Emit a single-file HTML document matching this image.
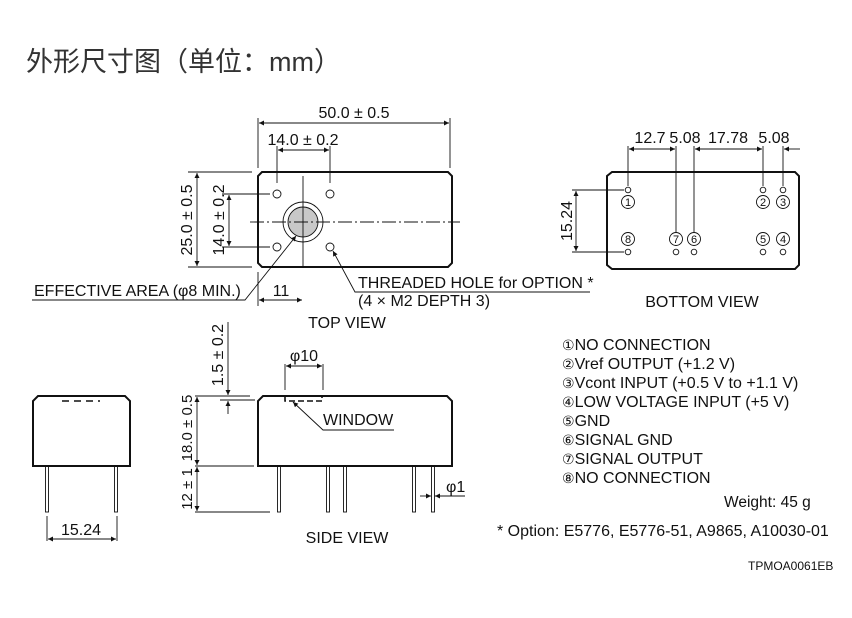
<!DOCTYPE html>
<html><head><meta charset="utf-8"><style>
html,body{margin:0;padding:0;background:#fff;width:852px;height:618px;overflow:hidden}
svg{display:block}
text{font-family:"Liberation Sans",Arial,sans-serif;fill:#111}
</style></head><body>
<svg width="852" height="618" viewBox="0 0 852 618" xmlns="http://www.w3.org/2000/svg">
<defs>
<marker id="a" viewBox="0 0 10 10" refX="10" refY="5" markerWidth="9" markerHeight="5" orient="auto-start-reverse" markerUnits="userSpaceOnUse"><path d="M0,0L10,5L0,10z" fill="#111"/></marker>
</defs>
<text x="26" y="71" style="font-family:'Liberation Sans','Noto Sans CJK SC',sans-serif;font-size:27px;fill:#333">外形尺寸图（单位：mm）</text>

<g stroke="#111" fill="none" stroke-width="0.9">
<path d="M262,172 H448 L452,176 V263 L448,267 H262 L258,263 V176 Z" stroke-width="2"/>
<circle cx="277" cy="194" r="4"/><circle cx="330" cy="194" r="4"/>
<circle cx="277" cy="247" r="4"/><circle cx="330" cy="247" r="4"/>
<circle cx="303" cy="222" r="20"/>
<circle cx="303" cy="222" r="15" fill="#c8c8c8"/>
<line x1="303" y1="176" x2="303" y2="268"/>
<line x1="250" y1="222" x2="460" y2="222" stroke-dasharray="14,3,2,3"/>
<line x1="258" y1="118" x2="258" y2="168"/><line x1="450" y1="118" x2="450" y2="168"/>
<line x1="259" y1="123" x2="449" y2="123" marker-start="url(#a)" marker-end="url(#a)"/>
<line x1="277" y1="146" x2="277" y2="183"/><line x1="330" y1="146" x2="330" y2="183"/>
<line x1="278" y1="150" x2="329" y2="150" marker-start="url(#a)" marker-end="url(#a)"/>
<line x1="188" y1="172" x2="252" y2="172"/><line x1="188" y1="267" x2="252" y2="267"/>
<line x1="197" y1="173" x2="197" y2="266" marker-start="url(#a)" marker-end="url(#a)"/>
<line x1="222" y1="194" x2="270" y2="194"/><line x1="222" y1="247" x2="270" y2="247"/>
<line x1="229" y1="195" x2="229" y2="246" marker-start="url(#a)" marker-end="url(#a)"/>
<line x1="258" y1="272" x2="258" y2="306"/>
<line x1="259" y1="300" x2="302" y2="300" marker-start="url(#a)" marker-end="url(#a)"/>
<polyline points="296,236 245,300 32,300" marker-start="url(#a)"/>
<polyline points="333,251 355,292 590,292" marker-start="url(#a)"/>

<path d="M263,396 H447 L452,401 V466 H258 V401 Z" stroke-width="2"/>
<path d="M285,396 V401 H322 V396" stroke-width="1.6" stroke-dasharray="6,3"/>
<g stroke-width="0.9">
<rect x="277.5" y="466" width="3" height="46"/><rect x="326.5" y="466" width="3" height="46"/>
<rect x="343.5" y="466" width="3" height="46"/><rect x="412.5" y="466" width="3" height="46"/>
<rect x="431.5" y="466" width="3" height="46"/>
</g>
<line x1="228" y1="322" x2="228" y2="395" marker-end="url(#a)"/>
<line x1="228" y1="414" x2="228" y2="401" marker-end="url(#a)"/>
<line x1="195" y1="396" x2="250" y2="396"/><line x1="220" y1="400" x2="255" y2="400"/>
<line x1="197" y1="397" x2="197" y2="465" marker-start="url(#a)" marker-end="url(#a)"/>
<line x1="197" y1="467" x2="197" y2="511" marker-start="url(#a)" marker-end="url(#a)"/>
<line x1="195" y1="466" x2="254" y2="466"/><line x1="195" y1="512" x2="270" y2="512"/>
<line x1="285" y1="364" x2="285" y2="390"/><line x1="323" y1="364" x2="323" y2="390"/>
<line x1="286" y1="366" x2="322" y2="366" marker-start="url(#a)" marker-end="url(#a)"/>
<polyline points="293,402 323,430 394,430" marker-start="url(#a)"/>
<line x1="420" y1="496" x2="431" y2="496" marker-end="url(#a)"/>
<line x1="465" y1="496" x2="435" y2="496" marker-end="url(#a)"/>

<path d="M38,396 H125 L130,401 V466 H33 V401 Z" stroke-width="2"/>
<path d="M62,401 H100" stroke-width="1.6" stroke-dasharray="7,5"/>
<rect x="45.5" y="466" width="3" height="46" stroke-width="0.9"/>
<rect x="114.5" y="466" width="3" height="46" stroke-width="0.9"/>
<line x1="47" y1="516" x2="47" y2="541"/><line x1="117" y1="516" x2="117" y2="541"/>
<line x1="48" y1="539" x2="116" y2="539" marker-start="url(#a)" marker-end="url(#a)"/>

<path d="M612,172 H795 L799,176 V265 L795,269 H612 L607,265 V176 Z" stroke-width="2"/>
<g stroke-width="0.9">
<circle cx="628" cy="190" r="2.8"/><circle cx="763" cy="190" r="2.8"/><circle cx="783" cy="190" r="2.8"/>
<circle cx="628" cy="252" r="2.8"/><circle cx="676" cy="252" r="2.8"/><circle cx="694" cy="252" r="2.8"/>
<circle cx="763" cy="252" r="2.8"/><circle cx="783" cy="252" r="2.8"/>
<circle cx="628" cy="202" r="6.5"/><circle cx="763" cy="202" r="6.5"/><circle cx="783" cy="202" r="6.5"/>
<circle cx="628" cy="239" r="6.5"/><circle cx="676" cy="239" r="6.5"/><circle cx="694" cy="239" r="6.5"/>
<circle cx="763" cy="239" r="6.5"/><circle cx="783" cy="239" r="6.5"/>
</g>
<line x1="628" y1="146" x2="628" y2="186"/><line x1="676" y1="146" x2="676" y2="232"/>
<line x1="694" y1="146" x2="694" y2="232"/><line x1="763" y1="146" x2="763" y2="186"/>
<line x1="783" y1="146" x2="783" y2="186"/>
<line x1="629" y1="149" x2="675" y2="149" marker-start="url(#a)" marker-end="url(#a)"/>
<line x1="695" y1="149" x2="762" y2="149" marker-start="url(#a)" marker-end="url(#a)"/>
<line x1="800" y1="149" x2="784" y2="149" marker-end="url(#a)"/>
<line x1="572" y1="190" x2="624" y2="190"/><line x1="572" y1="252" x2="624" y2="252"/>
<line x1="576" y1="191" x2="576" y2="251" marker-start="url(#a)" marker-end="url(#a)"/>
</g>

<g font-size="16">
<text x="354" y="118" text-anchor="middle">50.0 ± 0.5</text>
<text x="303" y="145" text-anchor="middle">14.0 ± 0.2</text>
<text transform="translate(192,220) rotate(-90)" text-anchor="middle">25.0 ± 0.5</text>
<text transform="translate(224,220) rotate(-90)" text-anchor="middle">14.0 ± 0.2</text>
<text x="281" y="296" text-anchor="middle">11</text>
<text x="34" y="296">EFFECTIVE AREA (φ8 MIN.)</text>
<text x="358" y="288">THREADED HOLE for OPTION *</text>
<text x="358" y="306">(4 × M2 DEPTH 3)</text>
<text x="347" y="328" text-anchor="middle">TOP VIEW</text>
<text transform="translate(223,355) rotate(-90)" text-anchor="middle">1.5 ± 0.2</text>
<text transform="translate(192,428) rotate(-90)" text-anchor="middle" font-size="15">18.0 ± 0.5</text>
<text transform="translate(192,489) rotate(-90)" text-anchor="middle" font-size="15">12 ± 1</text>
<text x="304" y="361" text-anchor="middle">φ10</text>
<text x="323" y="425">WINDOW</text>
<text x="446" y="492">φ1</text>
<text x="347" y="543" text-anchor="middle">SIDE VIEW</text>
<text x="81" y="535" text-anchor="middle">15.24</text>
<text x="650" y="143" text-anchor="middle">12.7</text>
<text x="685" y="143" text-anchor="middle">5.08</text>
<text x="728" y="143" text-anchor="middle">17.78</text>
<text x="774" y="143" text-anchor="middle">5.08</text>
<text transform="translate(572,221) rotate(-90)" text-anchor="middle">15.24</text>
<text x="702" y="307" text-anchor="middle">BOTTOM VIEW</text>
</g>
<g font-size="11" text-anchor="middle">
<text x="628" y="206">1</text><text x="763" y="206">2</text><text x="783" y="206">3</text>
<text x="628" y="243">8</text><text x="676" y="243">7</text><text x="694" y="243">6</text>
<text x="763" y="243">5</text><text x="783" y="243">4</text>
</g>
<g font-size="16">
<text x="562" y="350"><tspan style="font-family:'DejaVu Sans',sans-serif;font-size:14px">①</tspan>NO CONNECTION</text>
<text x="562" y="369"><tspan style="font-family:'DejaVu Sans',sans-serif;font-size:14px">②</tspan>Vref OUTPUT (+1.2 V)</text>
<text x="562" y="388"><tspan style="font-family:'DejaVu Sans',sans-serif;font-size:14px">③</tspan>Vcont INPUT (+0.5 V to +1.1 V)</text>
<text x="562" y="407"><tspan style="font-family:'DejaVu Sans',sans-serif;font-size:14px">④</tspan>LOW VOLTAGE INPUT (+5 V)</text>
<text x="562" y="426"><tspan style="font-family:'DejaVu Sans',sans-serif;font-size:14px">⑤</tspan>GND</text>
<text x="562" y="445"><tspan style="font-family:'DejaVu Sans',sans-serif;font-size:14px">⑥</tspan>SIGNAL GND</text>
<text x="562" y="464"><tspan style="font-family:'DejaVu Sans',sans-serif;font-size:14px">⑦</tspan>SIGNAL OUTPUT</text>
<text x="562" y="483"><tspan style="font-family:'DejaVu Sans',sans-serif;font-size:14px">⑧</tspan>NO CONNECTION</text>
<text x="724" y="507" font-size="15.5">Weight: 45 g</text>
<text x="497" y="536" font-size="16">* Option: E5776, E5776-51, A9865, A10030-01</text>
</g>
<text x="748" y="570" font-size="12">TPMOA0061EB</text>
</svg>
</body></html>
